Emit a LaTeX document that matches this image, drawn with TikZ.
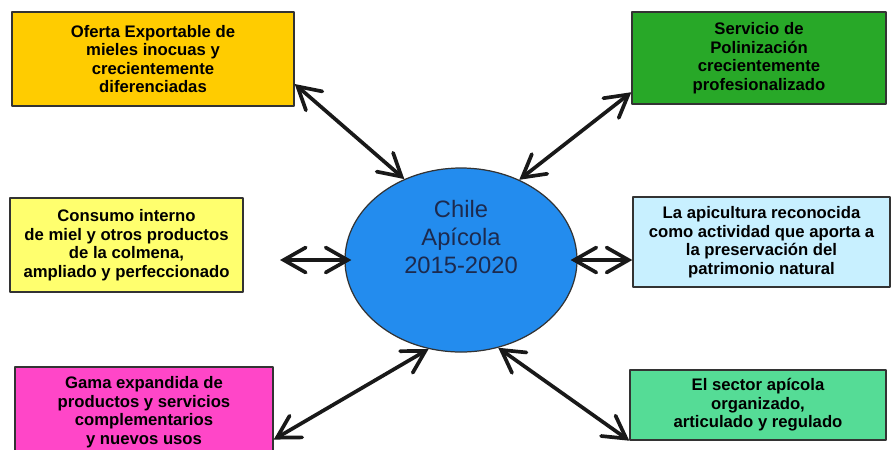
\documentclass[tikz,border=0pt]{standalone}
\usepackage{fontspec}
\setmainfont{Liberation Sans}
\usepackage{xcolor}
\usetikzlibrary{arrows.meta,shapes.geometric}

\definecolor{oroMiel}{RGB}{255,204,0}
\definecolor{verdePol}{RGB}{40,168,40}
\definecolor{amarilloCon}{RGB}{255,255,110}
\definecolor{celestePat}{RGB}{200,240,255}
\definecolor{rosaGam}{RGB}{255,70,200}
\definecolor{verdeSec}{RGB}{85,220,150}
\definecolor{azulChile}{RGB}{35,140,238}
\definecolor{tintaChile}{RGB}{28,42,78}

\begin{document}
\begin{tikzpicture}[x=0.2mm, y=-0.2mm, line join=round,
    caja/.style={draw=black!80, line width=0.8pt, align=center, inner sep=0pt,
        font=\fontsize{9.5}{10.6}\selectfont\bfseries, text=black},
    flecha/.style={{Straight Barb[length=4.4mm,width=5mm,line cap=round]}-{Straight Barb[length=4.4mm,width=5mm,line cap=round]},
        line width=2.1pt, line cap=round, black!90}]
    \useasboundingbox (0,0) rectangle (892,449);
    \clip (0,0) rectangle (892,449);
    % centro
    \node[ellipse, draw=black!80, line width=0.7pt, fill=azulChile, inner sep=0pt,
        minimum width=4.64cm, minimum height=3.68cm] (chile) at (461,260) {};
    \node[align=center, text=tintaChile, font=\fontsize{13.5}{16}\selectfont] (chileTxt) at (461,237)
        {Chile\\Apícola\\2015-2020};
    % cajas
    \node[caja, fill=oroMiel, minimum width=5.64cm, minimum height=1.88cm] (ofe) at (153,59)
        {Oferta Exportable de\\mieles inocuas y\\crecientemente\\diferenciadas};
    \node[caja, fill=verdePol, minimum width=5.08cm, minimum height=1.84cm] (pol) at (759,58)
        {Servicio de\\Polinización\\crecientemente\\profesionalizado};
    \node[caja, fill=amarilloCon, minimum width=4.66cm, minimum height=1.88cm] (con) at (126.5,245)
        {Consumo interno\\de miel y otros productos\\de la colmena,\\ampliado y perfeccionado};
    \node[caja, fill=celestePat, minimum width=5.14cm, minimum height=1.80cm] (pat) at (761.5,242)
        {La apicultura reconocida\\como actividad que aporta a\\la preservación del\\patrimonio natural};
    \node[caja, fill=rosaGam, minimum width=5.16cm, minimum height=1.80cm] (gam) at (144,412)
        {Gama expandida de\\productos y servicios\\complementarios\\y nuevos usos};
    \node[caja, fill=verdeSec, minimum width=5.12cm, minimum height=1.40cm] (sec) at (758,405)
        {El sector apícola\\organizado,\\articulado y regulado};
    % flechas
    \coordinate (conPunta) at (280,260);
    \draw[flecha] (ofe.-10) -- (chile.125);
    \draw[flecha] (chile.54) -- (pol.195);
    \draw[flecha, shorten >=-1.4mm] (conPunta) -- (chile.west);
    \draw[flecha, shorten <=-1.4mm] (chile.east) -- (pat.west |- chile.east);
    \draw[flecha] (chile.250) -- (gam.-12);
    \draw[flecha] (chile.293) -- (sec.south west);
\end{tikzpicture}
\end{document}
